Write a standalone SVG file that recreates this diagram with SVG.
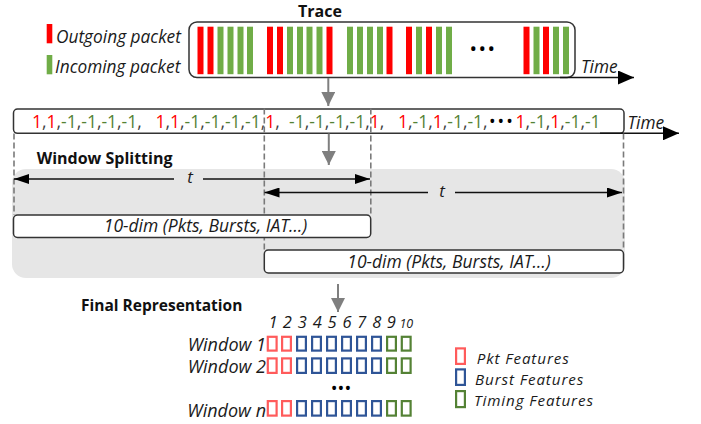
<svg xmlns="http://www.w3.org/2000/svg" width="701" height="424" viewBox="0 0 701 424">
<style>
text{font-family:"Open Sans","Liberation Sans",sans-serif;}
.it{font-style:italic;fill:#1a1a1a;}
.bold{font-weight:bold;fill:#111;}
.out{fill:#ff0000;}
.in{fill:#70ad47;}
.box{fill:#fff;stroke:#333;stroke-width:1.5;}
.dash{stroke:#7a7a7a;stroke-width:1.6;stroke-dasharray:6 3;fill:none;}
.blk{stroke:#111;stroke-width:1.5;fill:none;}
.gray{stroke:#7f7f7f;stroke-width:2;fill:none;marker-end:url(#gh);}
.r{fill:#ff0000;}
.g{fill:#548235;}
.sq{fill:#fff;stroke-width:2.2;}
.sr{stroke:#ff5b5b;}
.sb{stroke:#2f5597;}
.sg{stroke:#548235;}
.lg{font-size:15.2px;letter-spacing:0.9px;}
</style>
<defs>
<marker id="ah" markerWidth="15" markerHeight="10" refX="15" refY="5" orient="auto" markerUnits="userSpaceOnUse"><path d="M0,0 L15,5 L0,10 z" fill="#000"/></marker>
<marker id="ta" markerWidth="16" markerHeight="14" refX="16" refY="7" orient="auto" markerUnits="userSpaceOnUse"><path d="M0,0 L16,7 L0,14 z" fill="#000"/></marker>
<marker id="gh" markerWidth="14" markerHeight="14" refX="14" refY="7" orient="auto" markerUnits="userSpaceOnUse"><path d="M0,0 L14,7 L0,14 z" fill="#7f7f7f"/></marker>
</defs>

<rect id="window-area" x="12" y="169" width="613" height="109" rx="14" fill="#e6e6e6"/>

<g id="legend-packets">
<rect x="46.7" y="24" width="5.6" height="19.3" class="out"/>
<rect x="46.7" y="55" width="5.6" height="19.3" class="in"/>
<text x="56" y="42.7" class="it" font-size="17.3">Outgoing packet</text>
<text x="55" y="73.3" class="it" font-size="17.3">Incoming packet</text>
</g>

<g id="trace">
<text x="320" y="17" class="bold" font-size="16" text-anchor="middle">Trace</text>
<rect x="189" y="22" width="386" height="55.5" rx="8" class="box"/>
<rect x="197.5" y="26.7" width="6" height="47.5" class="out"/>
<rect x="207.5" y="26.7" width="6" height="47.5" class="out"/>
<rect x="217.5" y="26.7" width="6" height="47.5" class="in"/>
<rect x="227.5" y="26.7" width="6" height="47.5" class="in"/>
<rect x="237.5" y="26.7" width="6" height="47.5" class="in"/>
<rect x="247" y="26.7" width="6" height="47.5" class="in"/>
<rect x="267" y="26.7" width="6" height="47.5" class="out"/>
<rect x="277" y="26.7" width="6" height="47.5" class="out"/>
<rect x="287" y="26.7" width="6" height="47.5" class="in"/>
<rect x="297" y="26.7" width="6" height="47.5" class="in"/>
<rect x="306.5" y="26.7" width="6" height="47.5" class="in"/>
<rect x="316.5" y="26.7" width="6" height="47.5" class="in"/>
<rect x="326.5" y="26.7" width="6" height="47.5" class="out"/>
<rect x="347" y="26.7" width="6" height="47.5" class="in"/>
<rect x="357" y="26.7" width="6" height="47.5" class="in"/>
<rect x="367" y="26.7" width="6" height="47.5" class="in"/>
<rect x="377" y="26.7" width="6" height="47.5" class="in"/>
<rect x="386.5" y="26.7" width="6" height="47.5" class="out"/>
<rect x="406" y="26.7" width="6" height="47.5" class="out"/>
<rect x="416" y="26.7" width="6" height="47.5" class="in"/>
<rect x="426" y="26.7" width="6" height="47.5" class="out"/>
<rect x="436" y="26.7" width="6" height="47.5" class="in"/>
<rect x="446" y="26.7" width="6" height="47.5" class="in"/>
<text x="483" y="56" font-size="20" text-anchor="middle" fill="#000" letter-spacing="1.5">•••</text>
<rect x="523.5" y="26.7" width="6" height="47.5" class="out"/>
<rect x="533.5" y="26.7" width="6" height="47.5" class="in"/>
<rect x="543" y="26.7" width="6" height="47.5" class="out"/>
<rect x="553" y="26.7" width="6" height="47.5" class="in"/>
<rect x="563" y="26.7" width="6" height="47.5" class="in"/>
<text x="581" y="73" class="it" font-size="17.3">Time</text>
</g>

<g id="sequence">
<rect x="13.5" y="109" width="610.5" height="24.3" rx="4" class="box"/>
<g font-size="17.5" fill="#404040">
<text x="32" y="128"><tspan class="r">1</tspan>,<tspan class="r">1</tspan>,<tspan class="g">-1</tspan>,<tspan class="g">-1</tspan>,<tspan class="g">-1</tspan>,<tspan class="g">-1</tspan>,</text>
<text x="155.5" y="128"><tspan class="r">1</tspan>,<tspan class="r">1</tspan>,<tspan class="g">-1</tspan>,<tspan class="g">-1</tspan>,<tspan class="g">-1</tspan>,<tspan class="g">-1</tspan>,<tspan class="r">1</tspan>,</text>
<text x="289" y="128"><tspan class="g">-1</tspan>,<tspan class="g">-1</tspan>,<tspan class="g">-1</tspan>,<tspan class="g">-1</tspan>,<tspan class="r">1</tspan>,</text>
<text x="398" y="128"><tspan class="r">1</tspan>,<tspan class="g">-1</tspan>,<tspan class="r">1</tspan>,<tspan class="g">-1</tspan>,<tspan class="g">-1</tspan>,</text>
<text x="489" y="128" fill="#000" letter-spacing="2">•••</text>
<text x="515.5" y="128"><tspan class="r">1</tspan>,<tspan class="g">-1</tspan>,<tspan class="r">1</tspan>,<tspan class="g">-1</tspan>,<tspan class="g">-1</tspan></text>
</g>
<text x="627.5" y="128.5" class="it" font-size="17.3">Time</text>
</g>

<g id="connectors">
<line x1="560" y1="77.5" x2="634" y2="77.5" class="blk" marker-end="url(#ta)"/>
<line x1="600" y1="133.3" x2="679" y2="133.3" class="blk" marker-end="url(#ta)"/>
<line x1="328.3" y1="78" x2="328.3" y2="106" class="gray"/>
<line x1="328.8" y1="133.5" x2="328.8" y2="165" class="gray"/>
<line x1="338" y1="284" x2="338" y2="312" class="gray"/>
<line x1="14" y1="133.5" x2="14" y2="215" class="dash"/>
<line x1="264.3" y1="108.5" x2="264.3" y2="250" class="dash"/>
<line x1="370.8" y1="108.5" x2="370.8" y2="215" class="dash"/>
<line x1="623.5" y1="133.5" x2="623.5" y2="250" class="dash"/>
<line x1="174" y1="179" x2="14" y2="179" class="blk" marker-end="url(#ah)"/>
<line x1="203" y1="179" x2="370" y2="179" class="blk" marker-end="url(#ah)"/>
<line x1="428" y1="192.5" x2="264.5" y2="192.5" class="blk" marker-end="url(#ah)"/>
<line x1="455" y1="192.5" x2="622" y2="192.5" class="blk" marker-end="url(#ah)"/>
</g>

<g id="window-splitting">
<text x="36.7" y="163.5" class="bold" font-size="16">Window Splitting</text>
<text x="190" y="183" class="it" font-size="17" text-anchor="middle">t</text>
<text x="442" y="197" class="it" font-size="17" text-anchor="middle">t</text>
</g>

<g id="window-1">
<rect x="13.5" y="215" width="357.2" height="22.5" rx="4" class="box"/>
<text x="205.5" y="232" class="it" font-size="17.5" text-anchor="middle">10-dim (Pkts, Bursts, IAT…)</text>
</g>

<g id="window-2">
<rect x="264.3" y="250" width="359.2" height="23" rx="4" class="box"/>
<text x="449" y="267.5" class="it" font-size="17.5" text-anchor="middle">10-dim (Pkts, Bursts, IAT…)</text>
</g>

<g id="final-representation">
<text x="81" y="310.5" class="bold" font-size="15.5">Final Representation</text>
<g class="it" font-size="16.5" text-anchor="middle">
<text x="273" y="327.7">1</text>
<text x="287.4" y="327.7">2</text>
<text x="302.3" y="327.7">3</text>
<text x="317.2" y="327.7">4</text>
<text x="332.1" y="327.7">5</text>
<text x="347" y="327.7">6</text>
<text x="361.9" y="327.7">7</text>
<text x="376.8" y="327.7">8</text>
<text x="391.4" y="327.7">9</text>
<text x="406.3" y="327.5" font-size="12.5">10</text>
</g>
<g class="it" font-size="18" text-anchor="end">
<text x="266" y="351">Window 1</text>
<text x="266" y="372.7">Window 2</text>
<text x="266" y="416.5">Window n</text>
</g>
<g id="row-1">
<rect x="267.8" y="336.8" width="8.8" height="13.8" class="sq sr"/>
<rect x="282.1" y="336.8" width="8.8" height="13.8" class="sq sr"/>
<rect x="297.1" y="336.8" width="8.8" height="13.8" class="sq sb"/>
<rect x="312.1" y="336.8" width="8.8" height="13.8" class="sq sb"/>
<rect x="327.1" y="336.8" width="8.8" height="13.8" class="sq sb"/>
<rect x="342.1" y="336.8" width="8.8" height="13.8" class="sq sb"/>
<rect x="357.1" y="336.8" width="8.8" height="13.8" class="sq sb"/>
<rect x="372.1" y="336.8" width="8.8" height="13.8" class="sq sb"/>
<rect x="387.1" y="336.8" width="8.8" height="13.8" class="sq sg"/>
<rect x="401.8" y="336.8" width="8.8" height="13.8" class="sq sg"/>
</g>
<g id="row-2">
<rect x="267.8" y="358.4" width="8.8" height="14.5" class="sq sr"/>
<rect x="282.1" y="358.4" width="8.8" height="14.5" class="sq sr"/>
<rect x="297.1" y="358.4" width="8.8" height="14.5" class="sq sb"/>
<rect x="312.1" y="358.4" width="8.8" height="14.5" class="sq sb"/>
<rect x="327.1" y="358.4" width="8.8" height="14.5" class="sq sb"/>
<rect x="342.1" y="358.4" width="8.8" height="14.5" class="sq sb"/>
<rect x="357.1" y="358.4" width="8.8" height="14.5" class="sq sb"/>
<rect x="372.1" y="358.4" width="8.8" height="14.5" class="sq sb"/>
<rect x="387.1" y="358.4" width="8.8" height="14.5" class="sq sg"/>
<rect x="401.8" y="358.4" width="8.8" height="14.5" class="sq sg"/>
</g>
<text x="341" y="395" font-size="18" text-anchor="middle" fill="#000">•••</text>
<g id="row-n">
<rect x="267.8" y="401.1" width="8.8" height="14.5" class="sq sr"/>
<rect x="282.1" y="401.1" width="8.8" height="14.5" class="sq sr"/>
<rect x="297.1" y="401.1" width="8.8" height="14.5" class="sq sb"/>
<rect x="312.1" y="401.1" width="8.8" height="14.5" class="sq sb"/>
<rect x="327.1" y="401.1" width="8.8" height="14.5" class="sq sb"/>
<rect x="342.1" y="401.1" width="8.8" height="14.5" class="sq sb"/>
<rect x="357.1" y="401.1" width="8.8" height="14.5" class="sq sb"/>
<rect x="372.1" y="401.1" width="8.8" height="14.5" class="sq sb"/>
<rect x="387.1" y="401.1" width="8.8" height="14.5" class="sq sg"/>
<rect x="401.8" y="401.1" width="8.8" height="14.5" class="sq sg"/>
</g>
</g>

<g id="legend-features">
<rect x="456.1" y="348.4" width="8.8" height="15.5" class="sq sr"/>
<rect x="456.1" y="369.4" width="8.8" height="15.5" class="sq sb"/>
<rect x="456.1" y="391.1" width="8.8" height="16" class="sq sg"/>
<text x="476.7" y="364.3" class="it lg">Pkt Features</text>
<text x="475" y="385" class="it lg">Burst Features</text>
<text x="474" y="406" class="it lg">Timing Features</text>
</g>
</svg>
